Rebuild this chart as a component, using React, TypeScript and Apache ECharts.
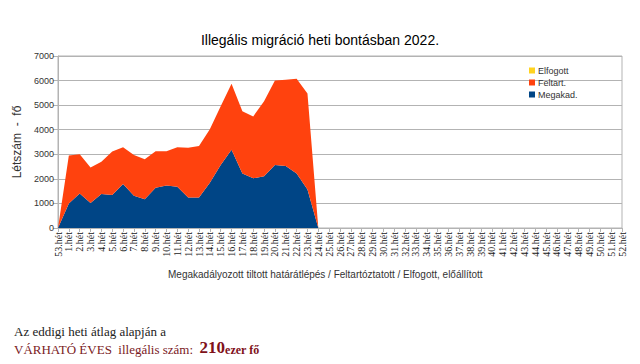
import React, { useEffect, useRef } from "react";
import * as echarts from "echarts";

const weeks = [
  "53.hét", "1.hét", "2.hét", "3.hét", "4.hét", "5.hét", "6.hét", "7.hét", "8.hét", "9.hét",
  "10.hét", "11.hét", "12.hét", "13.hét", "14.hét", "15.hét", "16.hét", "17.hét", "18.hét", "19.hét",
  "20.hét", "21.hét", "22.hét", "23.hét", "24.hét", "25.hét", "26.hét", "27.hét", "28.hét", "29.hét",
  "30.hét", "31.hét", "32.hét", "33.hét", "34.hét", "35.hét", "36.hét", "37.hét", "38.hét", "39.hét",
  "40.hét", "41.hét", "42.hét", "43.hét", "44.hét", "45.hét", "46.hét", "47.hét", "48.hét", "49.hét",
  "50.hét", "51.hét", "52.hét",
];

// weeks 53 .. 24 (later weeks have no data yet)
const megakad = [0, 1000, 1400, 1020, 1380, 1340, 1790, 1310, 1170, 1640, 1730, 1680, 1240, 1240, 1840, 2560, 3180, 2220, 2020, 2110, 2560, 2520, 2220, 1570, 0];
const feltart = [0, 1950, 1600, 1440, 1320, 1770, 1500, 1660, 1630, 1480, 1390, 1610, 2030, 2100, 2180, 2390, 2690, 2530, 2520, 3050, 3440, 3510, 3850, 3900, 0];
const elfogott = [0, 0, 0, 0, 0, 0, 0, 0, 0, 0, 0, 0, 0, 0, 0, 0, 0, 0, 0, 0, 0, 0, 0, 0, 0];

const yTicks = [0, 1000, 2000, 3000, 4000, 5000, 6000, 7000];

const pad = (a: number[]) => (a as (number | null)[]).concat(new Array(weeks.length - a.length).fill(null));

export default function App() {
  const ref = useRef<HTMLDivElement>(null);
  useEffect(() => {
    if (!ref.current) return;
    const chart = echarts.init(ref.current, null, { renderer: "svg" });
    const sans = "Liberation Sans, Arial, sans-serif";
    const serif = "Liberation Serif, Times New Roman, serif";
    const areaSeries = (name: string, data: number[], color: string) => ({
      name,
      type: "line",
      stack: "total",
      data: pad(data),
      showSymbol: false,
      symbol: "none",
      lineStyle: { width: 0, color },
      itemStyle: { color },
      areaStyle: { color, opacity: 1 },
    });
    chart.setOption({
      animation: false,
      backgroundColor: "#ffffff",
      title: {
        text: "Illegális migráció heti bontásban 2022.",
        left: "center",
        top: 28,
        textStyle: { fontFamily: sans, fontSize: 14, fontWeight: "normal", color: "#000" },
      },
      legend: {
        data: ["Elfogott", "Feltart.", "Megakad."],
        orient: "vertical",
        left: 524,
        top: 61,
        itemWidth: 6,
        itemHeight: 6,
        itemGap: 3,
        icon: "rect",
        textStyle: { fontFamily: sans, fontSize: 9, color: "#333", padding: [0, 0, 0, -2] },
      },
      grid: {
        left: 58,
        right: 18,
        top: 56,
        bottom: 136,
        show: true,
        borderColor: "#b3b3b3",
        borderWidth: 1,
      },
      xAxis: {
        type: "category",
        data: weeks,
        boundaryGap: false,
        axisLine: { lineStyle: { color: "#b3b3b3" } },
        axisTick: { show: true, length: 4, lineStyle: { color: "#b3b3b3" } },
        axisLabel: { rotate: 90, interval: 0, fontFamily: serif, fontSize: 10, color: "#222", margin: 4 },
        splitLine: { show: false },
      },
      yAxis: {
        type: "value",
        min: yTicks[0],
        max: yTicks[yTicks.length - 1],
        interval: 1000,
        name: "Létszám  -  fő",
        nameLocation: "middle",
        nameGap: 34,
        nameTextStyle: { fontFamily: sans, fontSize: 12, color: "#333" },
        axisLine: { show: true, lineStyle: { color: "#b3b3b3" } },
        axisTick: { show: true, length: 5, lineStyle: { color: "#b3b3b3" } },
        axisLabel: { fontFamily: sans, fontSize: 9, color: "#333", margin: 4, formatter: (v: number) => String(v) },
        splitLine: { lineStyle: { color: "#b3b3b3", width: 1 } },
      },
      series: [
        areaSeries("Megakad.", megakad, "#004586"),
        areaSeries("Feltart.", feltart, "#ff420e"),
        areaSeries("Elfogott", elfogott, "#ffd320"),
      ],
      graphic: [
        {
          type: "text",
          left: 168,
          top: 269,
          style: {
            text: "Megakadályozott tiltott határátlépés / Feltartóztatott / Elfogott, előállított",
            font: `10px ${sans}`,
            fill: "#333",
          },
        },
        {
          type: "text",
          left: 14,
          top: 325,
          style: { text: "Az eddigi heti átlag alapján a", font: `13px ${serif}`, fill: "#222" },
        },
        {
          type: "text",
          left: 14,
          top: 339,
          style: {
            text: "{a|VÁRHATÓ ÉVES  illegális szám:  }{b|210}{c|ezer fő}",
            fill: "#7a2024",
            rich: {
              a: { font: `13px ${serif}`, fill: "#7a2024", verticalAlign: "bottom" },
              b: { font: `bold 17px ${serif}`, fill: "#80111a", verticalAlign: "bottom" },
              c: { font: `bold 12px ${serif}`, fill: "#80111a", verticalAlign: "bottom" },
            },
          },
        },
      ],
    });
    return () => chart.dispose();
  }, []);
  return <div ref={ref} style={{ position: "absolute", left: 0, top: 0, width: 640, height: 364 }} />;
}
